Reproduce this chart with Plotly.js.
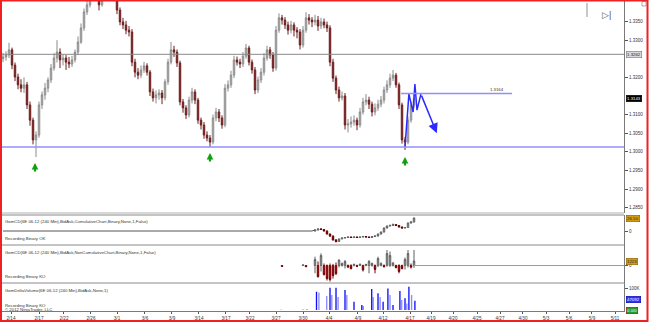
<!DOCTYPE html>
<html><head><meta charset="utf-8">
<script src="https://cdn.plot.ly/plotly-3.0.1.min.js"></script>
<style>html,body{margin:0;padding:0;background:#fff;}#chart{width:650px;height:322px;}</style>
</head><body><div id="chart"></div>
<script>
// ---------- tick labels (x axis, bar index positions) ----------
const dateLabels = ["2/14","2/17","2/22","2/26","3/1","3/6","3/9","3/14","3/17","3/22","3/27","3/30","4/4","4/9","4/12","4/17","4/19","4/20","4/25","4/27","4/30","5/3","5/6","5/9","5/11"];
const datePos = [2.67,12,20.33,29.33,38,47.33,56.33,65.33,74.33,82.33,91,100,108.67,118.33,126.67,135.67,142.67,150,158,165.67,173.33,181,188.67,196.33,204];
const priceTicks = [1.285,1.29,1.295,1.30,1.305,1.31,1.32,1.33,1.335];

// ---------- price candles (6E 06-12, 240 min) ----------
const priceOpen = [1.3250,1.3255,1.3260,1.3274,1.3233,1.3201,1.3180,1.3171,1.3180,1.3126,
 1.3085,1.3032,1.3045,1.3126,1.3153,1.3171,1.3193,1.3225,1.3252,1.3268,
 1.3247,1.3252,1.3241,1.3236,1.3247,1.3268,1.3295,1.3333,1.3376,1.3395,
 1.3421,1.3435,1.3416,1.3395,1.3421,1.3448,1.3440,1.3429,1.3413,1.3381,
 1.3349,1.3341,1.3327,1.3322,1.3241,1.3214,1.3206,1.3220,1.3231,1.3214,
 1.3161,1.3145,1.3153,1.3158,1.3145,1.3188,1.3241,1.3274,1.3268,1.3239,
 1.3134,1.3118,1.3099,1.3139,1.3161,1.3139,1.3085,1.3072,1.3045,1.3037,
 1.3026,1.3091,1.3107,1.3091,1.3072,1.3171,1.3180,1.3206,1.3247,1.3241,
 1.3236,1.3257,1.3279,1.3241,1.3220,1.3166,1.3193,1.3214,1.3252,1.3274,
 1.3260,1.3225,1.3327,1.3360,1.3354,1.3341,1.3327,1.3341,1.3327,1.3322,
 1.3287,1.3327,1.3360,1.3354,1.3349,1.3354,1.3338,1.3349,1.3341,1.3333,
 1.3241,1.3198,1.3166,1.3145,1.3150,1.3072,1.3075,1.3080,1.3085,1.3072,
 1.3107,1.3134,1.3139,1.3128,1.3107,1.3118,1.3128,1.3139,1.3166,1.3180,
 1.3198,1.3206,1.3180,1.3126,1.3032,1.3026,1.3085,1.3126];
const priceHigh = [1.3266,1.3270,1.3293,1.3280,1.3240,1.3210,1.3195,1.3200,1.3188,1.3135,
 1.3092,1.3055,1.3135,1.3162,1.3185,1.3200,1.3236,1.3265,1.3300,1.3278,
 1.3262,1.3260,1.3255,1.3258,1.3275,1.3310,1.3345,1.3385,1.3405,1.3430,
 1.3445,1.3440,1.3425,1.3430,1.3455,1.3458,1.3450,1.3435,1.3420,1.3388,
 1.3360,1.3352,1.3338,1.3330,1.3250,1.3225,1.3232,1.3242,1.3238,1.3220,
 1.3170,1.3165,1.3168,1.3166,1.3195,1.3250,1.3295,1.3285,1.3275,1.3245,
 1.3142,1.3125,1.3148,1.3172,1.3168,1.3145,1.3092,1.3080,1.3055,1.3045,
 1.3100,1.3118,1.3115,1.3098,1.3182,1.3192,1.3218,1.3258,1.3256,1.3250,
 1.3268,1.3290,1.3285,1.3248,1.3228,1.3202,1.3225,1.3265,1.3285,1.3282,
 1.3268,1.3338,1.3372,1.3368,1.3362,1.3350,1.3352,1.3348,1.3335,1.3330,
 1.3338,1.3375,1.3370,1.3362,1.3368,1.3365,1.3360,1.3358,1.3350,1.3340,
 1.3250,1.3205,1.3175,1.3162,1.3158,1.3088,1.3095,1.3098,1.3092,1.3118,
 1.3145,1.3155,1.3148,1.3135,1.3130,1.3140,1.3150,1.3175,1.3192,1.3210,
 1.3220,1.3212,1.3186,1.3132,1.3040,1.3095,1.3135,1.3158];
const priceLow = [1.3241,1.3245,1.3252,1.3222,1.3190,1.3168,1.3160,1.3158,1.3115,1.3070,
 1.3020,1.2986,1.3038,1.3115,1.3140,1.3160,1.3185,1.3218,1.3240,1.3225,
 1.3232,1.3220,1.3225,1.3228,1.3240,1.3260,1.3290,1.3325,1.3368,1.3388,
 1.3412,1.3410,1.3380,1.3390,1.3415,1.3430,1.3420,1.3405,1.3370,1.3340,
 1.3330,1.3316,1.3310,1.3230,1.3200,1.3195,1.3198,1.3212,1.3205,1.3150,
 1.3135,1.3130,1.3140,1.3128,1.3138,1.3180,1.3235,1.3255,1.3228,1.3125,
 1.3105,1.3088,1.3092,1.3130,1.3128,1.3075,1.3060,1.3035,1.3028,1.3013,
 1.3020,1.3082,1.3080,1.3062,1.3066,1.3162,1.3172,1.3198,1.3232,1.3225,
 1.3228,1.3250,1.3232,1.3210,1.3155,1.3158,1.3185,1.3205,1.3245,1.3250,
 1.3215,1.3218,1.3320,1.3342,1.3330,1.3315,1.3318,1.3310,1.3305,1.3275,
 1.3280,1.3320,1.3342,1.3335,1.3340,1.3325,1.3330,1.3332,1.3322,1.3230,
 1.3188,1.3155,1.3135,1.3138,1.3060,1.3052,1.3065,1.3070,1.3058,1.3065,
 1.3100,1.3125,1.3115,1.3095,1.3098,1.3110,1.3120,1.3130,1.3158,1.3172,
 1.3190,1.3172,1.3115,1.3022,1.3005,1.3020,1.3078,1.3118];
const priceClose = [1.3255,1.3260,1.3274,1.3233,1.3201,1.3180,1.3171,1.3180,1.3126,1.3085,
 1.3032,1.3045,1.3126,1.3153,1.3171,1.3193,1.3225,1.3252,1.3268,1.3247,
 1.3252,1.3241,1.3236,1.3247,1.3268,1.3295,1.3333,1.3376,1.3395,1.3421,
 1.3435,1.3416,1.3395,1.3421,1.3448,1.3440,1.3429,1.3413,1.3381,1.3349,
 1.3341,1.3327,1.3322,1.3241,1.3214,1.3206,1.3220,1.3231,1.3214,1.3161,
 1.3145,1.3153,1.3158,1.3145,1.3188,1.3241,1.3274,1.3268,1.3239,1.3134,
 1.3118,1.3099,1.3139,1.3161,1.3139,1.3085,1.3072,1.3045,1.3037,1.3026,
 1.3091,1.3107,1.3091,1.3072,1.3171,1.3180,1.3206,1.3247,1.3241,1.3236,
 1.3257,1.3279,1.3241,1.3220,1.3166,1.3193,1.3214,1.3252,1.3274,1.3260,
 1.3225,1.3327,1.3360,1.3354,1.3341,1.3327,1.3341,1.3327,1.3322,1.3287,
 1.3327,1.3360,1.3354,1.3349,1.3354,1.3338,1.3349,1.3341,1.3333,1.3241,
 1.3198,1.3166,1.3145,1.3150,1.3072,1.3075,1.3080,1.3085,1.3072,1.3107,
 1.3134,1.3139,1.3128,1.3107,1.3118,1.3128,1.3139,1.3166,1.3180,1.3198,
 1.3206,1.3180,1.3126,1.3032,1.3026,1.3085,1.3126,1.3143];
const barIndex = priceClose.map((_, i) => i);

// ---------- drawn levels ----------
const supportLevel = 1.3013;
const upperLevel = 1.3262;
const targetLevel = 1.3157;
const targetLabel = "1.3164";
const zigX = [134, 135.3, 136.7, 137.3, 138, 139.3];
const zigY = [1.3013, 1.3155, 1.3107, 1.3182, 1.3112, 1.3155];
const zigArrowEnd = [144.6, 1.3050];
const signalX = [10.67, 69, 134];
const signalY = [1.2970, 1.2997, 1.2986];

// ---------- GomCD cumulative ----------
const cdClose = [0,0,0,0,0,0,0,0,0,0, 0,0,0,0,0,0,0,0,0,0, 0,0,0,0,0,0,0,0,0,0,
 0,0,0,0,0,0,0,0,0,0, 0,0,0,0,0,0,0,0,0,0, 0,0,0,0,0,0,0,0,0,0,
 0,0,0,0,0,0,0,0,0,0, 0,0,0,0,0,0,0,0,0,0, 0,0,0,0,0,0,0,0,0,0,
 0,0,0,0,0,0,0,0,0,0, 0,0,0,0,
 2,4,3,0,-6,-10,-18,-21,-16,-14,-13,-12,-13,-12,-13,-12,-11,-12,-13,-11,-10,-6,-2,6,10,11,13,11,8,6,7,16,18,26];
const cdOpen = [0,2,4,3,0,-6,-10,-18,-21,-16,-14,-13,-12,-13,-12,-13,-12,-11,-12,-13,-11,-10,-6,-2,6,10,11,13,11,8,6,7,16,18];
const cdHigh = [3,5,6,4,1,-5,-9,-16,-15,-13,-12,-11,-11,-11,-11,-11,-10,-10,-11,-10,-9,-5,-1,7,11,13,15,14,12,9,8,17,20,27];
const cdLow = [-1,1,2,-1,-7,-12,-19,-23,-22,-16,-15,-14,-14,-14,-14,-14,-13,-13,-14,-14,-12,-11,-7,-3,5,9,10,10,7,5,5,6,15,17];
const cdStart = 104;

// ---------- GomCD non-cumulative ----------
const ncdX = [93,100,101,104,105,106,107,108,109,110,111,112,113,114,115,116,117,118,119,120,121,122,123,124,125,126,127,128,129,130,131,132,133,134,135,136,137];
const ncdOpen = [0,0,0,0,0,0,0,0,0,0,0,0,0,0,0,0,0,0,0,0,0,0,0,0,0,0,0,0,0,0,0,0,0,0,0,0,0];
const ncdClose = [-40,30,-60,300,-560,500,-450,-650,-700,-500,-400,275,100,200,-80,-150,50,-40,60,-220,50,200,100,-200,350,100,-60,600,500,120,-100,-300,-150,300,600,-80,225];
const ncdHigh = [0,40,10,442,200,608,100,50,100,80,150,300,150,275,50,60,100,40,100,40,90,275,150,50,442,160,50,775,700,180,40,60,40,400,775,100,775];
const ncdLow = [-60,-10,-80,-390,-600,-300,-500,-750,-800,-650,-480,-100,-50,-150,-120,-200,-40,-80,-30,-300,-40,-390,-60,-390,-80,-40,-100,-60,-80,-50,-150,-390,-200,-200,-100,-150,-120];

// ---------- GomDeltaVolume ----------
const volDarkX = [104.5,109,111,114,117,119.6,122.9,125,126.7,128.3,130,132.3,134,135.3,137.3];
const volDark = [83000,101000,101000,91000,38000,23000,95000,76000,38000,98000,23000,86000,53000,106000,42000];
const volLightX = [92.7,100,101.3,105.3,107.9,109.6,111.7,114.6,120.1,123.4,125.7,129,132.9,134.6,136.2];
const volLight = [2000,3000,4000,79000,64000,68000,59000,68000,18000,59000,59000,68000,45000,30000,68000];

// ---------- panel texts ----------
const panelTexts = [
 ["GomCD(6E 06-12 (240 Min),BidAsk,CumulativeChart,Binary,None,1,False)", 221],
 ["Recording Binary OK", 238],
 ["GomCD(6E 06-12 (240 Min),BidAsk,NonCumulativeChart,Binary,None,1,False)", 252],
 ["Recording Binary KO", 276],
 ["GomDeltaVolume(6E 06-12 (240 Min),BidAsk,None,1)", 290],
 ["Recording Binary KO", 305.5],
 ["© 2012 NinjaTrader, LLC", 309.5]
];

const PH = 311; // plot height in px
const py = p => (PH - p) / PH;
const blueLine = '#8f8fff';

const traces = [
 {type:'candlestick', x:barIndex, open:priceOpen, high:priceHigh, low:priceLow, close:priceClose,
  xaxis:'x', yaxis:'y', whiskerwidth:0,
  increasing:{line:{color:'#8a8a8a', width:1}, fillcolor:'#cfcfcf'},
  decreasing:{line:{color:'#6a2020', width:1}, fillcolor:'#a01818'}, hoverinfo:'skip'},
 {type:'scatter', mode:'lines', x:zigX, y:zigY, xaxis:'x', yaxis:'y', line:{color:'#2b2bff', width:1.5}, hoverinfo:'skip'},
 {type:'scatter', mode:'lines', x:barIndex.slice(0, cdStart+1), y:cdClose.slice(0, cdStart+1), xaxis:'x', yaxis:'y2', line:{color:'#555', width:1}, hoverinfo:'skip'},
 {type:'candlestick', x:barIndex.slice(cdStart), open:cdOpen, high:cdHigh, low:cdLow, close:cdClose.slice(cdStart),
  xaxis:'x', yaxis:'y2', whiskerwidth:0,
  increasing:{line:{color:'#606060', width:1}, fillcolor:'#c4c4c4'},
  decreasing:{line:{color:'#600000', width:1}, fillcolor:'#e00000'}, hoverinfo:'skip'},
 {type:'candlestick', x:ncdX, open:ncdOpen, high:ncdHigh, low:ncdLow, close:ncdClose,
  xaxis:'x', yaxis:'y3', whiskerwidth:0,
  increasing:{line:{color:'#606060', width:1}, fillcolor:'#b8b8b8'},
  decreasing:{line:{color:'#700000', width:1}, fillcolor:'#e00000'}, hoverinfo:'skip'},
 {type:'bar', x:volLightX, y:volLight, xaxis:'x', yaxis:'y4', width:0.45, marker:{color:'#8c8cff', line:{width:0}}, hoverinfo:'skip'},
 {type:'bar', x:volDarkX, y:volDark, xaxis:'x', yaxis:'y4', width:0.45, marker:{color:'#1010ff', line:{width:0}}, hoverinfo:'skip'}
];

const axCommon = {side:'right', anchor:'x', showgrid:false, zeroline:false, showline:true, linecolor:'#7a7a7a', linewidth:1,
  ticks:'outside', ticklen:3, tickcolor:'#555', tickfont:{size:4.5, color:'#333'}, fixedrange:true};

const shapes = [
 {type:'line', xref:'x', yref:'y', x0:-1, x1:207, y0:upperLevel, y1:upperLevel, line:{color:'#8a8a8a', width:1}},
 {type:'line', xref:'x', yref:'y', x0:-1, x1:207, y0:supportLevel, y1:supportLevel, line:{color:blueLine, width:1.5}},
 {type:'line', xref:'x', yref:'y', x0:132.7, x1:169.7, y0:targetLevel, y1:targetLevel, line:{color:blueLine, width:1.5}},
 {type:'line', xref:'x', yref:'y3', x0:137, x1:207, y0:0, y1:0, line:{color:blueLine, width:1}},
 {type:'line', xref:'paper', yref:'paper', x0:0, x1:1, y0:py(213), y1:py(213), line:{color:'#d8d8d8', width:2}},
 {type:'line', xref:'paper', yref:'paper', x0:0, x1:1, y0:py(215), y1:py(215), line:{color:'#8a8a8a', width:1}},
 {type:'line', xref:'paper', yref:'paper', x0:0, x1:1, y0:py(245), y1:py(245), line:{color:'#8a8a8a', width:1}},
 {type:'line', xref:'paper', yref:'paper', x0:0, x1:1, y0:py(283), y1:py(283), line:{color:'#8a8a8a', width:1}},
 {type:'rect', xref:'paper', yref:'paper', x0:586/624, x1:588/624, y0:py(17), y1:py(3), fillcolor:'#c8c8c8', line:{width:0}},
 {type:'rect', xref:'paper', yref:'paper', x0:642/624, x1:646/624, y0:py(6), y1:py(1.5), fillcolor:'#fff', line:{color:'#888', width:0.7}},
 {type:'rect', xref:'paper', yref:'paper', x0:1/624, x1:647.5/624, y0:py(321), y1:py(0.5), line:{color:'#ee2222', width:2}, fillcolor:'rgba(0,0,0,0)'}
];

const annotations = [];
panelTexts.forEach(t => annotations.push({xref:'paper', yref:'paper', x:3/624, y:py(t[1]), text:t[0], showarrow:false,
  xanchor:'left', yanchor:'middle', font:{size:4.3, color:'#333'}}));
signalX.forEach((sx, k) => annotations.push({xref:'x', yref:'y', x:sx, y:signalY[k], ax:0, ay:10, text:'', showarrow:true,
  arrowhead:2, arrowsize:0.6, arrowwidth:2.2, arrowcolor:'#10a010'}));
annotations.push({xref:'x', yref:'y', axref:'x', ayref:'y', x:zigArrowEnd[0], y:zigArrowEnd[1], ax:zigX[zigX.length-1], ay:zigY[zigY.length-1],
  text:'', showarrow:true, arrowhead:2, arrowsize:1.3, arrowwidth:1.5, arrowcolor:'#2b2bff'});
annotations.push({xref:'x', yref:'y', x:164.7, y:targetLevel, yshift:4, text:targetLabel, showarrow:false, font:{size:4.3, color:'#333'}});
const box = (yref, yv, txt, bg, fg, bc) => ({xref:'paper', yref:yref, x:1.003, y:yv, text:txt, showarrow:false, xanchor:'left', yanchor:'middle',
  bgcolor:bg, bordercolor:bc, borderwidth:0.6, borderpad:0.5, font:{size:4.3, color:fg}});
annotations.push(box('y', upperLevel, upperLevel.toFixed(4), '#d9d9d9', '#222', '#777'));
annotations.push(box('y', priceClose[priceClose.length-1], priceClose[priceClose.length-1].toFixed(4), '#000', '#fff', '#000'));
annotations.push(box('y2', cdClose[cdClose.length-1], '26.50', '#d49a12', '#222', '#8a5a00'));
annotations.push(box('y3', ncdClose[ncdClose.length-1], '1223', '#d49a12', '#222', '#8a5a00'));
annotations.push(box('y4', 47000, '47092', '#3030ff', '#fff', '#0000aa'));
annotations.push(box('y4', 0, '0 0/0', '#2a9a2a', '#fff', '#b00000'));
annotations.push({xref:'paper', yref:'paper', x:613/624, y:py(8), text:'▷|', showarrow:false, font:{size:9, color:'#555'}});

const layout = {
 width:650, height:322, margin:{l:0, r:26, t:0, b:11, pad:0},
 paper_bgcolor:'#fff', plot_bgcolor:'#fff', showlegend:false,
 font:{family:'"Liberation Sans", Arial, sans-serif', size:5, color:'#333'},
 xaxis:{domain:[0,1], range:[-1,207], anchor:'y4', tickvals:datePos, ticktext:dateLabels, ticks:'outside', ticklen:2,
  tickcolor:'#555', showline:true, linecolor:'#7a7a7a', showgrid:false, zeroline:false, rangeslider:{visible:false},
  tickfont:{size:4.6, color:'#333'}, fixedrange:true},
 yaxis:Object.assign({}, axCommon, {domain:[py(213),1], range:[1.28355,1.3408], tickvals:priceTicks, tickformat:'.4f'}),
 yaxis2:Object.assign({}, axCommon, {domain:[py(245),py(215)], range:[-28,32], tickvals:[0], ticktext:['0']}),
 yaxis3:Object.assign({}, axCommon, {domain:[py(283),py(245)], range:[-875,1025], tickvals:[0], ticktext:['0']}),
 yaxis4:Object.assign({}, axCommon, {domain:[0,py(283)], range:[-4545,122700], tickvals:[100000], ticktext:['100K']}),
 shapes:shapes, annotations:annotations
};

Plotly.newPlot('chart', traces, layout, {staticPlot:true, displayModeBar:false});
</script></body></html>
